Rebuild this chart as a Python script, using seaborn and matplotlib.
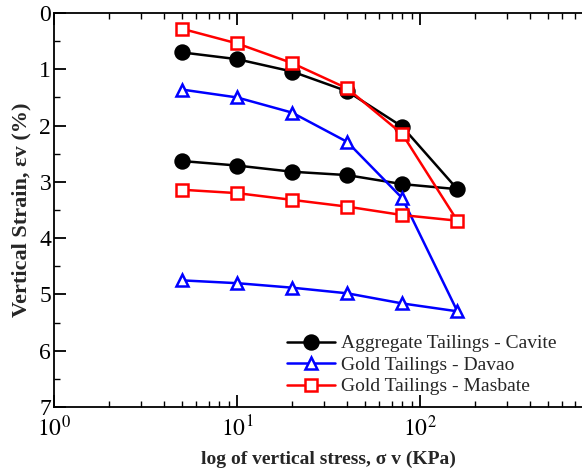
import matplotlib
matplotlib.use("Agg")
import matplotlib.pyplot as plt
import seaborn as sns
import pandas as pd
import numpy as np
from matplotlib.ticker import LogLocator, MultipleLocator, NullFormatter, FuncFormatter

sns.set_style("white")
plt.rcParams['font.family'] = ['Liberation Serif', 'DejaVu Serif']
plt.rcParams['mathtext.fontset'] = 'stix'

stress = [5, 10, 20, 40, 80, 160, 80, 40, 20, 10, 5]
cavite = [0.70, 0.82, 1.04, 1.39, 2.02, 3.13, 3.04, 2.88, 2.82, 2.71, 2.63]
davao = [1.36, 1.50, 1.77, 2.29, 3.29, 5.30, 5.16, 4.98, 4.88, 4.80, 4.75]
masbate = [0.28, 0.54, 0.89, 1.34, 2.15, 3.69, 3.59, 3.44, 3.32, 3.20, 3.14]
series_names = ["Aggregate Tailings - Cavite", "Gold Tailings - Davao", "Gold Tailings - Masbate"]
colors = ["black", "blue", "red"]
markers = ["o", "^", "s"]

fig = plt.figure(figsize=(5.82, 4.72), dpi=100)
ax = fig.add_axes([54/582, 1 - 407/472, (603-54)/582, (407-13)/472])

for name, vals, c, m in zip(series_names, [cavite, davao, masbate], colors, markers):
    df = pd.DataFrame({"stress": stress, "strain": vals})
    fill = c if m == "o" else "white"
    ms = 10 if m == "o" else 9
    sns.lineplot(data=df, x="stress", y="strain", sort=False, ax=ax, color=c,
                 marker=m, markersize=ms, markerfacecolor=fill, markeredgecolor=c,
                 markeredgewidth=1.8, linewidth=1.8, label=name, estimator=None)

ax.set_xscale("log")
ax.set_xlim(1, 1000)
ax.set_ylim(7, 0)
ax.yaxis.set_major_locator(MultipleLocator(1))
ax.yaxis.set_minor_locator(MultipleLocator(0.5))
ax.xaxis.set_major_locator(LogLocator(base=10, numticks=10))
ax.xaxis.set_minor_locator(LogLocator(base=10, subs=range(2, 10), numticks=20))
ax.xaxis.set_minor_formatter(NullFormatter())
ax.xaxis.set_major_formatter(FuncFormatter(
    lambda v, p: f"$10^{{{int(round(np.log10(v)))}}}$" if v < 999 else ""))
ax.tick_params(which="both", direction="in", top=True, right=True, bottom=True, left=True,
               labelsize=17, colors="black")
ax.tick_params(axis="y", pad=2)
ax.tick_params(axis="x", pad=6)
ax.tick_params(which="major", length=8.6, width=1.3)
ax.tick_params(which="minor", length=4.3, width=1.0)
for s in ax.spines.values():
    s.set_color("black")
    s.set_linewidth(1.3)

ax.set_xlabel("log of vertical stress, σ v (KPa)", fontsize=14, fontweight="bold", labelpad=7)
ax.set_ylabel("Vertical Strain, εv (%)", fontsize=16, fontweight="bold", labelpad=6)

leg = ax.legend(loc="upper left", bbox_to_anchor=(0.41, 0.203), frameon=False, fontsize=14,
                handlelength=2.5, handletextpad=0.3, labelspacing=0.2, borderaxespad=0)

fig.savefig("out.png", dpi=100)
